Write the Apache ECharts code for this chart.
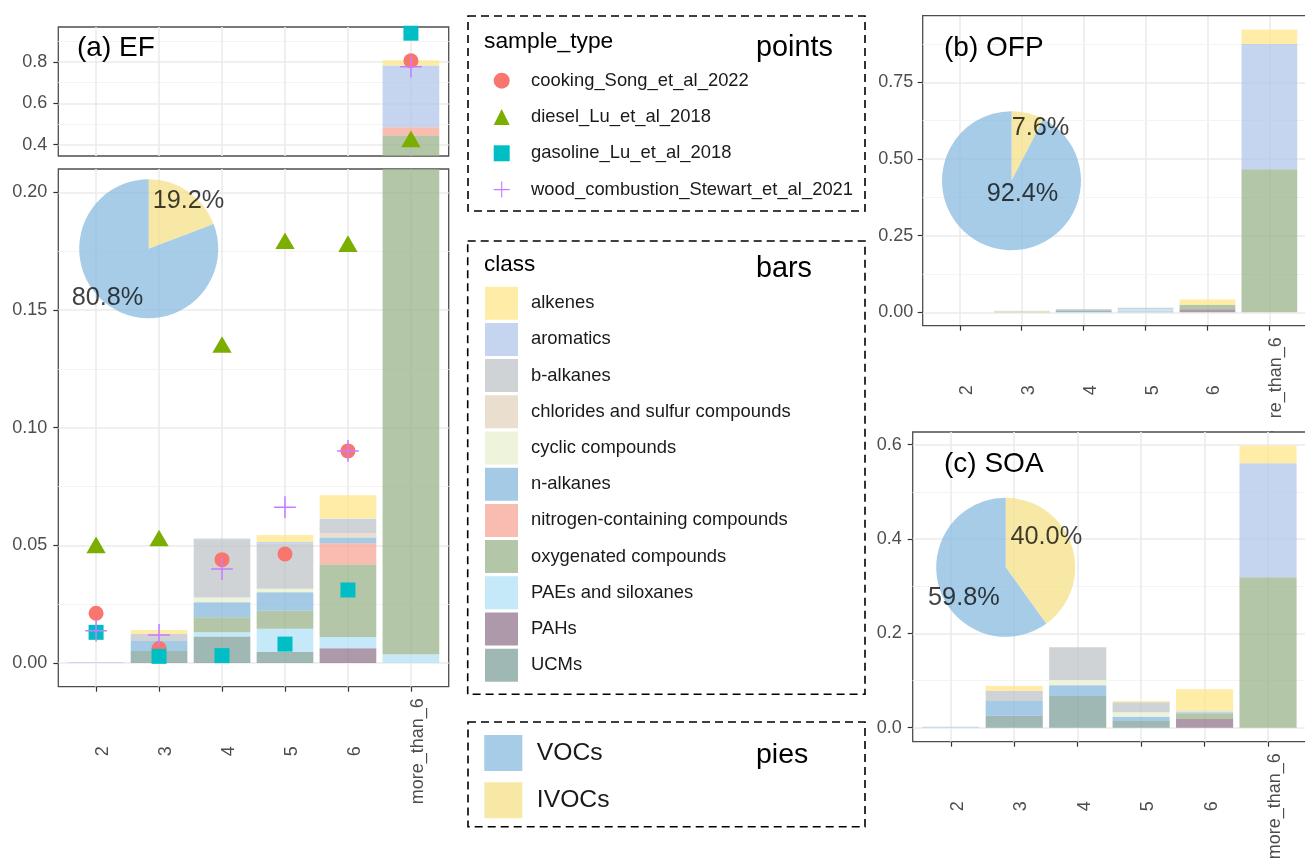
<!DOCTYPE html>
<html>
<head>
<meta charset="utf-8">
<script src="https://cdn.jsdelivr.net/npm/echarts@6/dist/echarts.min.js"></script>
<style>
html, body { margin: 0; padding: 0; background: #fff; }
#chart { width: 1305px; height: 859px; }
</style>
</head>
<body>
<div id="chart"></div>
<script>
const categories = ['2', '3', '4', '5', '6', 'more_than_6'];
const classes = [
  'alkenes', 'aromatics', 'b-alkanes', 'chlorides and sulfur compounds',
  'cyclic compounds', 'n-alkanes', 'nitrogen-containing compounds',
  'oxygenated compounds', 'PAEs and siloxanes', 'PAHs', 'UCMs'
];

// rows follow `classes`, columns follow `categories`
const efBars = [
  [0, 0.0016, 0, 0.0030, 0.0101, 0.026],
  [0.0003, 0, 0.0003, 0.0005, 0.0009, 0.298],
  [0, 0.0031, 0.0248, 0.0194, 0.0052, 0],
  [0, 0, 0, 0, 0.0018, 0],
  [0, 0, 0.0020, 0.0015, 0, 0],
  [0, 0.0042, 0.0064, 0.0078, 0.0024, 0],
  [0, 0, 0, 0, 0.0091, 0.0407],
  [0, 0, 0.0064, 0.0077, 0.0308, 0.440],
  [0, 0, 0.0018, 0.0097, 0.0048, 0.0037],
  [0, 0, 0, 0, 0.0062, 0],
  [0, 0.0051, 0.0112, 0.0048, 0, 0]
];
const ofpBars = [
  [0, 0.002, 0, 0, 0.017, 0.046],
  [0, 0, 0, 0, 0, 0.409],
  [0, 0, 0.003, 0.004, 0, 0],
  [0, 0, 0, 0, 0, 0],
  [0, 0, 0, 0, 0, 0],
  [0, 0.001, 0.002, 0, 0, 0],
  [0, 0, 0, 0, 0, 0],
  [0, 0, 0, 0, 0.015, 0.466],
  [0, 0, 0, 0.008, 0, 0],
  [0, 0, 0, 0, 0.010, 0],
  [0, 0.002, 0.006, 0.003, 0, 0]
];
const soaBars = [
  [0, 0.0099, 0, 0.0028, 0.045, 0.0375],
  [0.002, 0, 0, 0, 0, 0.2415],
  [0, 0.0219, 0.0693, 0.0212, 0.002, 0],
  [0, 0, 0, 0, 0, 0],
  [0, 0, 0.0112, 0.0093, 0.002, 0],
  [0, 0.0311, 0.0227, 0.0091, 0.002, 0],
  [0, 0, 0, 0, 0, 0],
  [0, 0, 0, 0, 0.0121, 0.319],
  [0, 0, 0, 0, 0, 0],
  [0, 0, 0, 0, 0.0184, 0],
  [0, 0.0255, 0.0672, 0.0142, 0, 0]
];

const pointNames = ['cooking_Song_et_al_2022', 'diesel_Lu_et_al_2018', 'gasoline_Lu_et_al_2018', 'wood_combustion_Stewart_et_al_2021'];
const cookingEF = [0.0211, 0.0061, 0.0439, 0.0463, 0.0901, 0.806];
const dieselEF = [0.0490, 0.0519, 0.1341, 0.1782, 0.1770, 0.4145];
const gasolineEF = [0.0130, 0.0028, 0.0031, 0.0080, 0.0310, 0.939];
const woodEF = [0.0137, 0.0119, 0.0399, 0.0662, 0.0901, 0.777];

const pieNames = ['IVOCs', 'VOCs'];
const efPie = [19.2, 80.8];
const ofpPie = [7.6, 92.4];
const soaPie = [40.0, 59.8];

const efTopTicks = [0.4, 0.6, 0.8];
const efTopMinor = [0.5, 0.7, 0.9];
const efTicks = [0, 0.05, 0.10, 0.15, 0.20];
const efMinor = [0.025, 0.075, 0.125, 0.175];
const ofpTicks = [0, 0.25, 0.50, 0.75];
const ofpMinor = [0.125, 0.375, 0.625, 0.875];
const soaTicks = [0, 0.2, 0.4, 0.6];
const soaMinor = [0.1, 0.3, 0.5];

const classColors = ['#FFE688', '#B2C7EB', '#C0C4C8', '#E3D4BF', '#E8EFCF', '#87B8DC',
  '#F6A796', '#9AB38B', '#B2E2F6', '#92778E', '#7FA09A'];
const pieColors = ['#F6E087', '#88BBE0'];
const FONT = 'Liberation Sans';

const chart = echarts.init(document.getElementById('chart'));

const gridBox = [
  { left: 58.3, top: 27, width: 390.4, height: 129 },
  { left: 58.3, top: 169, width: 390.4, height: 517.7 },
  { left: 922.7, top: 15.7, width: 383.8, height: 310 },
  { left: 912.7, top: 432, width: 393.4, height: 309.7 }
];
// the SOA panel gets a white background so it hides the end of the OFP axis label
const grid = gridBox.map((g, gi) => Object.assign({
  show: true, borderColor: '#4d4d4d', borderWidth: 1.3, z: 1,
  backgroundColor: gi === 3 ? '#fff' : 'transparent',
  outerBoundsMode: 'none', containLabel: false
}, g));

const catIdx = categories.map((c, i) => i);
const xAxis = gridBox.map((g, gi) => ({
  type: 'value', gridIndex: gi, min: -0.6, max: 5.6, z: gi === 2 ? 0.5 : 2,
  axisLine: { show: false, onZero: false },
  axisTick: { show: gi > 0, length: 5, customValues: catIdx, lineStyle: { color: '#333', width: 1.2 } },
  axisLabel: {
    show: gi > 0, customValues: catIdx, formatter: v => categories[Math.round(v)],
    rotate: 90, align: 'center', verticalAlign: 'top', lineHeight: 14,
    margin: 64.5, fontSize: 18, color: '#4d4d4d', fontFamily: FONT
  },
  splitLine: { show: true, lineStyle: { color: '#ebebeb', width: 1.6 } }
}));

const yMain = [
  [0.345, 0.969, efTopTicks, 1, 11],
  [-0.0101, 0.2099, efTicks, 2, 11],
  [-0.0437, 0.967, ofpTicks, 2, 9.5],
  [-0.0297, 0.627, soaTicks, 1, 11]
];
const yMinor = [efTopMinor, efMinor, ofpMinor, soaMinor];
const yAxis = [];
yMain.forEach((m, gi) => {
  yAxis.push({
    type: 'value', gridIndex: gi, min: m[0], max: m[1], position: 'left', z: 2,
    axisLine: { show: false, onZero: false },
    axisTick: { show: true, length: 5, customValues: m[2], lineStyle: { color: '#333', width: 1.2 } },
    axisLabel: {
      show: true, customValues: m[2], formatter: v => v.toFixed(m[3]),
      margin: m[4], fontSize: 18, color: '#4d4d4d', fontFamily: FONT
    },
    splitLine: { show: true, lineStyle: { color: '#ebebeb', width: 1.6 } }
  });
});
yMain.forEach((m, gi) => {
  yAxis.push({
    type: 'value', gridIndex: gi, min: m[0], max: m[1], position: 'left', z: 1.5,
    axisLine: { show: false, onZero: false },
    axisTick: { show: false, customValues: yMinor[gi] },
    axisLabel: { show: false },
    splitLine: { show: true, lineStyle: { color: '#f4f4f4', width: 1 } }
  });
});

const series = [];
const barSets = [['aTop', efBars], ['aBot', efBars], ['b', ofpBars], ['c', soaBars]];
barSets.forEach((bs, gi) => {
  // ggplot stacks the first class on top, so the last class goes in first
  for (let k = classes.length - 1; k >= 0; k--) {
    series.push({
      type: 'bar', name: classes[k], xAxisIndex: gi, yAxisIndex: gi,
      stack: bs[0], barWidth: gridBox[gi].width / 6.2 * 0.9,
      encode: { x: 1, y: 0 },
      itemStyle: { color: classColors[k], opacity: 0.75, borderWidth: 0 },
      data: bs[1][k].map((v, i) => [v, i]),
      silent: true, z: 3
    });
  }
});

const pointStyle = [
  { data: cookingEF, color: '#F8766D', symbol: 'circle', size: 15, offset: [0, 0] },
  { data: dieselEF, color: '#7CAE00', symbol: 'triangle', size: [19.3, 16.6], offset: [0, -2.8] },
  { data: gasolineEF, color: '#00BFC4', symbol: 'rect', size: 15, offset: [0, 0] },
  { data: woodEF, color: '#C77CFF', symbol: 'path://M9.3,0h1.4v20h-1.4z M0,9.3h20v1.4h-20z', size: 21.7, offset: [0, 0] }
];
[0, 1].forEach(gi => {
  pointStyle.forEach((p, k) => {
    series.push({
      type: 'scatter', name: pointNames[k], xAxisIndex: gi, yAxisIndex: gi,
      symbol: p.symbol, symbolSize: p.size, symbolOffset: p.offset,
      itemStyle: { color: p.color, opacity: 1 },
      data: p.data.map((v, i) => [i, v]),
      silent: true, z: 5
    });
  });
});

const pieSets = [
  { data: efPie, center: [148.7, 248.7], shift: [[39.8, -47.7], [-41.2, 49]] },
  { data: ofpPie, center: [1011.5, 180.7], shift: [[29, -53], [11, 13.6]] },
  { data: soaPie, center: [1005.7, 567.3], shift: [[40.6, -30], [-41.8, 31]] }
];
pieSets.forEach(ps => {
  series.push({
    type: 'pie', center: ps.center, radius: 69.5, startAngle: 90, clockwise: true,
    avoidLabelOverlap: false, silent: true, z: 6,
    itemStyle: { opacity: 0.75, borderWidth: 0 },
    label: {
      show: true, position: 'center', fontSize: 25.3, color: '#000', fontFamily: FONT,
      formatter: p => p.value.toFixed(1) + '%'
    },
    labelLine: { show: false },
    labelLayout: params => ({ dx: ps.shift[params.dataIndex][0], dy: ps.shift[params.dataIndex][1] }),
    emphasis: { disabled: true },
    data: ps.data.map((v, i) => ({ name: pieNames[i], value: v, itemStyle: { color: pieColors[i] } }))
  });
});

const legendText = { fontSize: 18.4, color: '#1a1a1a', lineHeight: 20, fontFamily: FONT, padding: [0, 0, 0, 8] };
const legend = [
  {
    data: pointNames, orient: 'vertical', left: 493.7, top: 70.7, padding: 0,
    itemWidth: 16, itemHeight: 16, itemGap: 16.3, selectedMode: false, symbolKeepAspect: true,
    textStyle: Object.assign({}, legendText, { padding: [0, 0, 0, 16.3] })
  },
  {
    data: classes.map(name => ({ name, icon: 'rect' })), orient: 'vertical', left: 485, top: 286.7, padding: 0,
    itemWidth: 33, itemHeight: 33, itemGap: 3.2, selectedMode: false,
    textStyle: legendText
  },
  {
    data: [{ name: 'VOCs', icon: 'rect' }, { name: 'IVOCs', icon: 'rect' }], orient: 'vertical',
    left: 484.3, top: 735, padding: 0, itemWidth: 38, itemHeight: 36, itemGap: 11.3, selectedMode: false,
    textStyle: { fontSize: 24.7, color: '#1a1a1a', lineHeight: 26, fontFamily: FONT, padding: [0, 0, 0, 9.5] }
  }
];

function label(text, x, y, size) {
  return {
    type: 'text', x, y, z: 100,
    style: { text, font: size + 'px "' + FONT + '"', fill: '#000', verticalAlign: 'middle' }
  };
}
function dashedBox(x, y, w, h) {
  return {
    type: 'rect', z: 100, shape: { x, y, width: w, height: h },
    style: { fill: 'none', stroke: '#000', lineWidth: 1.6, lineDash: [8, 5] }
  };
}

const graphic = [
  // the OFP panel's long x label is cut off where the panel ends
  { type: 'rect', z: 90, shape: { x: 870, y: 419, width: 435, height: 12 }, style: { fill: '#fff' } },
  dashedBox(468, 16, 397, 195),
  dashedBox(467.7, 241, 397.3, 453.3),
  dashedBox(468, 722, 397, 104.7),
  label('(a) EF', 77, 48, 28),
  label('(b) OFP', 944, 48, 28),
  label('(c) SOA', 944, 464, 28),
  label('sample_type', 484, 41.7, 22.8),
  label('points', 756, 48.3, 28.8),
  label('class', 484, 264.3, 22.5),
  label('bars', 756, 269.3, 28.8),
  label('pies', 756, 755, 28.5)
];

const option = {
  animation: false,
  textStyle: { fontFamily: FONT },
  grid, xAxis, yAxis, series, legend, graphic
};
chart.setOption(option);
</script>
</body>
</html>
